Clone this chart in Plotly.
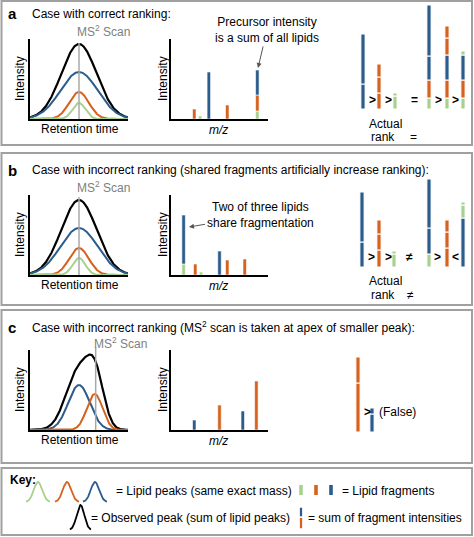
import numpy as np
import plotly.graph_objects as go

W, H = 474, 537
FONT = "Liberation Sans, Arial, Helvetica, sans-serif"

# ---------------- DATA ----------------
lipids = ["L1", "L2", "L3"]  # three lipids sharing the same exact mass

# chromatographic peaks (retention time 0-100, intensity a.u.)
peak_lipid_a = ["L1", "L2", "L3"]
peak_apex_a = [50, 50, 50]
peak_height_a = [47, 27, 16]
peak_width_a = [19, 10, 6.5]

peak_lipid_b = ["L1", "L2", "L3"]
peak_apex_b = [50, 50, 50]
peak_height_b = [47, 27, 17]
peak_width_b = [19, 10, 6.5]

peak_lipid_c = ["L1", "L2"]
peak_apex_c = [50, 66]
peak_height_c = [45, 36]
peak_width_c = [11, 8]

# observed (summed) peak per panel a, b, c (components)
observed_apex = [[50], [50], [50, 67]]
observed_height = [[75], [75], [60, 43]]
observed_width = [[18], [18], [13, 8.5]]

ms2_scan_rt = [50, 50, 67]

# MS2 spectra (same m/z -> stacked, bottom to top)
spec_a_mz = [24, 30, 39, 58, 89, 89, 89]
spec_a_lipid = ["L2", "L3", "L1", "L2", "L3", "L2", "L1"]
spec_a_int = [10, 3, 47, 14, 8, 16, 25]

spec_b_mz = [13, 13, 25, 31, 50, 58, 76]
spec_b_lipid = ["L3", "L1", "L2", "L3", "L1", "L2", "L2"]
spec_b_int = [11, 49, 11, 3, 24, 15, 16]

spec_c_mz = [24, 50, 74, 88]
spec_c_lipid = ["L1", "L2", "L1", "L2"]
spec_c_int = [10, 25, 19, 49]

# ranking bars: segments bottom -> top (first three: measured, last three: actual)
rank_a_lipid = [["L1", "L1"], ["L2", "L2", "L2"], ["L3", "L3"],
                ["L3", "L2", "L1", "L1"], ["L3", "L2", "L1", "L2", "L2"], ["L3", "L2", "L1", "L3"]]
rank_a_int = [[25, 50], [16, 16, 13], [13, 3],
              [11, 18, 24, 51], [11, 18, 25, 17, 12], [11, 18, 25, 4]]

rank_b_lipid = [["L1", "L1"], ["L2", "L2", "L2"], ["L3", "L3"],
                ["L3", "L1", "L1"], ["L2", "L2", "L2"], ["L1", "L3", "L3"]]
rank_b_int = [[25, 50], [17, 16, 14], [13, 3],
              [13, 26, 49], [19, 16, 12], [49, 13, 3]]

rank_c_lipid = [["L2", "L2"], ["L1", "L1"]]
rank_c_int = [[49, 26], [18, 6]]

# key glyphs
key_peak_lipid = ["L3", "L2", "L1"]
key_frag_lipid = ["L3", "L2", "L1"]
key_sum_lipid = ["L2", "L1"]
key_sum_int = [12, 10]

# ---------------- STYLE ----------------
COLORS = {"L1": "#2B5C8B", "L2": "#D6621E", "L3": "#A9D18E"}
OBS_COLOR = "black"
SCAN_COLOR = "#A8A8A8"
BORDER = "#A0A0A0"

fig = go.Figure()
layout_axes = {}
shapes = []
annotations = []


def add_axes(idx, x0, x1, ytop, ybase, xr, yr, show=False):
    sfx = "" if idx == 1 else str(idx)
    common = dict(showgrid=False, zeroline=False, showticklabels=False, ticks="",
                  showline=show, linecolor="black", linewidth=1.5, fixedrange=True)
    layout_axes["xaxis" + sfx] = dict(domain=[x0 / W, x1 / W], range=xr, anchor="y" + sfx, **common)
    layout_axes["yaxis" + sfx] = dict(domain=[1 - ybase / H, 1 - ytop / H], range=yr, anchor="x" + sfx, **common)
    return "x" + sfx, "y" + sfx


def gauss(x, apex, height, width):
    return height * np.exp(-0.5 * ((x - apex) / width) ** 2)


def stacked_bases(xs, vals):
    acc, bases = {}, []
    for x, v in zip(xs, vals):
        b = acc.get(x, 0)
        bases.append(b)
        acc[x] = b + v
    return bases


def txt(x, y, s, size=12, anchor="center", color="black", angle=0):
    annotations.append(dict(x=x / W, y=1 - y / H, xref="paper", yref="paper", text=s,
                            showarrow=False, xanchor=anchor, yanchor="middle", textangle=angle,
                            font=dict(family=FONT, size=size, color=color)))


rt = np.linspace(0, 100, 301)

panels = [
    dict(letter="a", title="Case with correct ranking:", ytitle=14, top=39, base=119,
         rtop=3, rbase=109, ry=106,
         lip=peak_lipid_a, apex=peak_apex_a, hgt=peak_height_a, wid=peak_width_a,
         smz=spec_a_mz, slip=spec_a_lipid, sint=spec_a_int,
         rlip=rank_a_lipid, rint=rank_a_int, slots=[13, 29, 45, 79, 97, 113], scan_top=43),
    dict(letter="b", title="Case with incorrect ranking (shared fragments artificially increase ranking):",
         ytitle=170, top=195, base=275, rtop=175, rbase=267, ry=92,
         lip=peak_lipid_b, apex=peak_apex_b, hgt=peak_height_b, wid=peak_width_b,
         smz=spec_b_mz, slip=spec_b_lipid, sint=spec_b_int,
         rlip=rank_b_lipid, rint=rank_b_int, slots=[12, 29, 44, 79, 97, 113], scan_top=197),
    dict(letter="c", title="Case with incorrect ranking (MS<sup>2</sup> scan is taken at apex of smaller peak):",
         ytitle=327, top=350, base=430, rtop=350, rbase=432, ry=82,
         lip=peak_lipid_c, apex=peak_apex_c, hgt=peak_height_c, wid=peak_width_c,
         smz=spec_c_mz, slip=spec_c_lipid, sint=spec_c_int,
         rlip=rank_c_lipid, rint=rank_c_int, slots=[8, 22], scan_top=347),
]

idx = 1
for k, P in enumerate(panels):
    # chromatogram
    xa, ya = add_axes(idx, 30, 128, P["top"], P["base"], [0, 100], [0, 80], show=True)
    idx += 1
    obs = sum(gauss(rt, a, h, w) for a, h, w in
              zip(observed_apex[k], observed_height[k], observed_width[k]))
    fig.add_trace(go.Scatter(x=rt, y=obs, mode="lines", line=dict(color=OBS_COLOR, width=2.2),
                             xaxis=xa, yaxis=ya, showlegend=False, hoverinfo="skip"))
    for lp, a, h, w in zip(P["lip"], P["apex"], P["hgt"], P["wid"]):
        fig.add_trace(go.Scatter(x=rt, y=gauss(rt, a, h, w), mode="lines",
                                 line=dict(color=COLORS[lp], width=2),
                                 xaxis=xa, yaxis=ya, showlegend=False, hoverinfo="skip"))
    shapes.append(dict(type="line", xref=xa, yref="paper", x0=ms2_scan_rt[k], x1=ms2_scan_rt[k],
                       y0=1 - P["base"] / H, y1=1 - P["scan_top"] / H,
                       line=dict(color=SCAN_COLOR, width=1.5), layer="above"))
    scan_px = 30 + ms2_scan_rt[k] * 0.98
    txt(scan_px - 4, P["top"] - 8 if k != 2 else P["top"] - 7, "MS<sup>2</sup> Scan", 12, "left", "#808080")
    txt(20, (P["top"] + P["base"]) / 2, "Intensity", 12, angle=-90)
    txt(80, P["base"] + 10, "Retention time", 12)

    # spectrum
    xs, ys = add_axes(idx, 171, 268, P["top"], P["base"], [0, 100], [0, 80], show=True)
    idx += 1
    fig.add_trace(go.Bar(x=P["smz"], y=P["sint"], base=stacked_bases(P["smz"], P["sint"]),
                         width=[3.6] * len(P["smz"]),
                         marker=dict(color=[COLORS[l] for l in P["slip"]],
                                     line=dict(color="white", width=0.6)),
                         xaxis=xs, yaxis=ys, showlegend=False, hoverinfo="skip"))
    txt(163, (P["top"] + P["base"]) / 2, "Intensity", 12, angle=-90)
    txt(218, P["base"] + 11, "<i>m/z</i>", 12)

    # ranking bars
    xr_, yr_ = add_axes(idx, 350, 470, P["rtop"], P["rbase"], [0, 120], [0, P["ry"]])
    idx += 1
    bx, by, bb, bc = [], [], [], []
    for slot, lips, vals in zip(P["slots"], P["rlip"], P["rint"]):
        cum = np.concatenate([[0], np.cumsum(vals)[:-1]])
        for lp, v, b in zip(lips, vals, cum):
            bx.append(slot); by.append(v); bb.append(float(b)); bc.append(COLORS[lp])
    fig.add_trace(go.Bar(x=bx, y=by, base=bb, width=[4.2] * len(bx),
                         marker=dict(color=bc, line=dict(color="white", width=1)),
                         xaxis=xr_, yaxis=yr_, showlegend=False, hoverinfo="skip"))

    # panel letter, title
    txt(6, P["ytitle"], "<b>" + P["letter"] + "</b>", 15, "left")
    txt(30, P["ytitle"], P["title"], 12, "left")

# rank symbols
for x, s in [(372, "&gt;"), (388, "&gt;"), (414, "="), (438, "&gt;"), (455, "&gt;")]:
    txt(x, 100, "<b>" + s + "</b>", 12)
txt(385, 124, "Actual", 12)
txt(383, 137, "rank", 12)
txt(413, 137, "=", 12)

for x, s in [(371, "&gt;"), (388, "&gt;"), (409, "≠"), (437, "&gt;"), (455, "&lt;")]:
    txt(x, 257, "<b>" + s + "</b>", 12)
txt(385, 281, "Actual", 12)
txt(383, 295, "rank", 12)
txt(410, 295, "≠", 12)

txt(367, 412, "<b>&gt;</b>", 12)
txt(377, 412, "(False)", 12, "left")

# callouts with arrows (text sits at the arrow tail)
for (tx, ty), (hx, hy), s in [((267, 30), (258, 68), "Precursor intensity<br>is a sum of all lipids"),
                              ((260, 215), (189, 227), "Two of three lipids<br>share fragmentation")]:
    annotations.append(dict(x=hx / W, y=1 - hy / H, xref="paper", yref="paper",
                            ax=tx - hx, ay=ty - hy, text=s, showarrow=True,
                            arrowhead=2, arrowsize=1, arrowwidth=1, arrowcolor="#555555",
                            standoff=0, font=dict(family=FONT, size=12, color="black")))

# ---------------- KEY ----------------
xk, yk = add_axes(idx, 0, 474, 468, 535, [0, 474], [0, 67])
idx += 1
for lp, cx in zip(key_peak_lipid, [38, 67, 95]):
    xx = np.linspace(cx - 12, cx + 12, 61)
    fig.add_trace(go.Scatter(x=xx, y=33 + gauss(xx, cx, 20, 4.2), mode="lines",
                             line=dict(color=COLORS[lp], width=1.8),
                             xaxis=xk, yaxis=yk, showlegend=False, hoverinfo="skip"))
xx = np.linspace(70, 91, 61)
fig.add_trace(go.Scatter(x=xx, y=5 + gauss(xx, 80.5, 25, 3.8), mode="lines",
                         line=dict(color="black", width=1.8),
                         xaxis=xk, yaxis=yk, showlegend=False, hoverinfo="skip"))
fig.add_trace(go.Bar(x=[301, 316, 331], y=[10] * 3, base=[40] * 3, width=[3.6] * 3,
                     marker=dict(color=[COLORS[l] for l in key_frag_lipid], line=dict(width=0)),
                     xaxis=xk, yaxis=yk, showlegend=False, hoverinfo="skip"))
sum_base = np.concatenate([[0], np.cumsum(key_sum_int)[:-1]]) + 6
fig.add_trace(go.Bar(x=[301] * len(key_sum_int), y=key_sum_int, base=list(sum_base), width=[3.8] * 2,
                     marker=dict(color=[COLORS[l] for l in key_sum_lipid], line=dict(color="white", width=1.5)),
                     xaxis=xk, yaxis=yk, showlegend=False, hoverinfo="skip"))
txt(8, 480, "<b>Key:</b>", 12, "left")
txt(114, 491, "= Lipid peaks (same exact mass)", 12, "left")
txt(340, 491, "= Lipid fragments", 12, "left")
txt(89, 518, "= Observed peak (sum of lipid peaks)", 12, "left")
txt(306, 518, "= sum of fragment intensities", 12, "left")

# frames
for y0, y1 in [(1, 145), (153, 305), (310, 463), (468, 535)]:
    shapes.append(dict(type="rect", xref="paper", yref="paper", x0=1.5 / W, x1=472 / W,
                       y0=1 - y1 / H, y1=1 - y0 / H, line=dict(color=BORDER, width=2)))

fig.update_layout(width=W, height=H, margin=dict(l=0, r=0, t=0, b=0),
                  paper_bgcolor="white", plot_bgcolor="rgba(0,0,0,0)",
                  barmode="overlay", showlegend=False,
                  font=dict(family=FONT, size=12, color="black"),
                  shapes=shapes, annotations=annotations, **layout_axes)
fig.write_html("out.html", config={"displayModeBar": False},
               post_script="document.body.style.margin='0';document.body.style.overflow='hidden';")
